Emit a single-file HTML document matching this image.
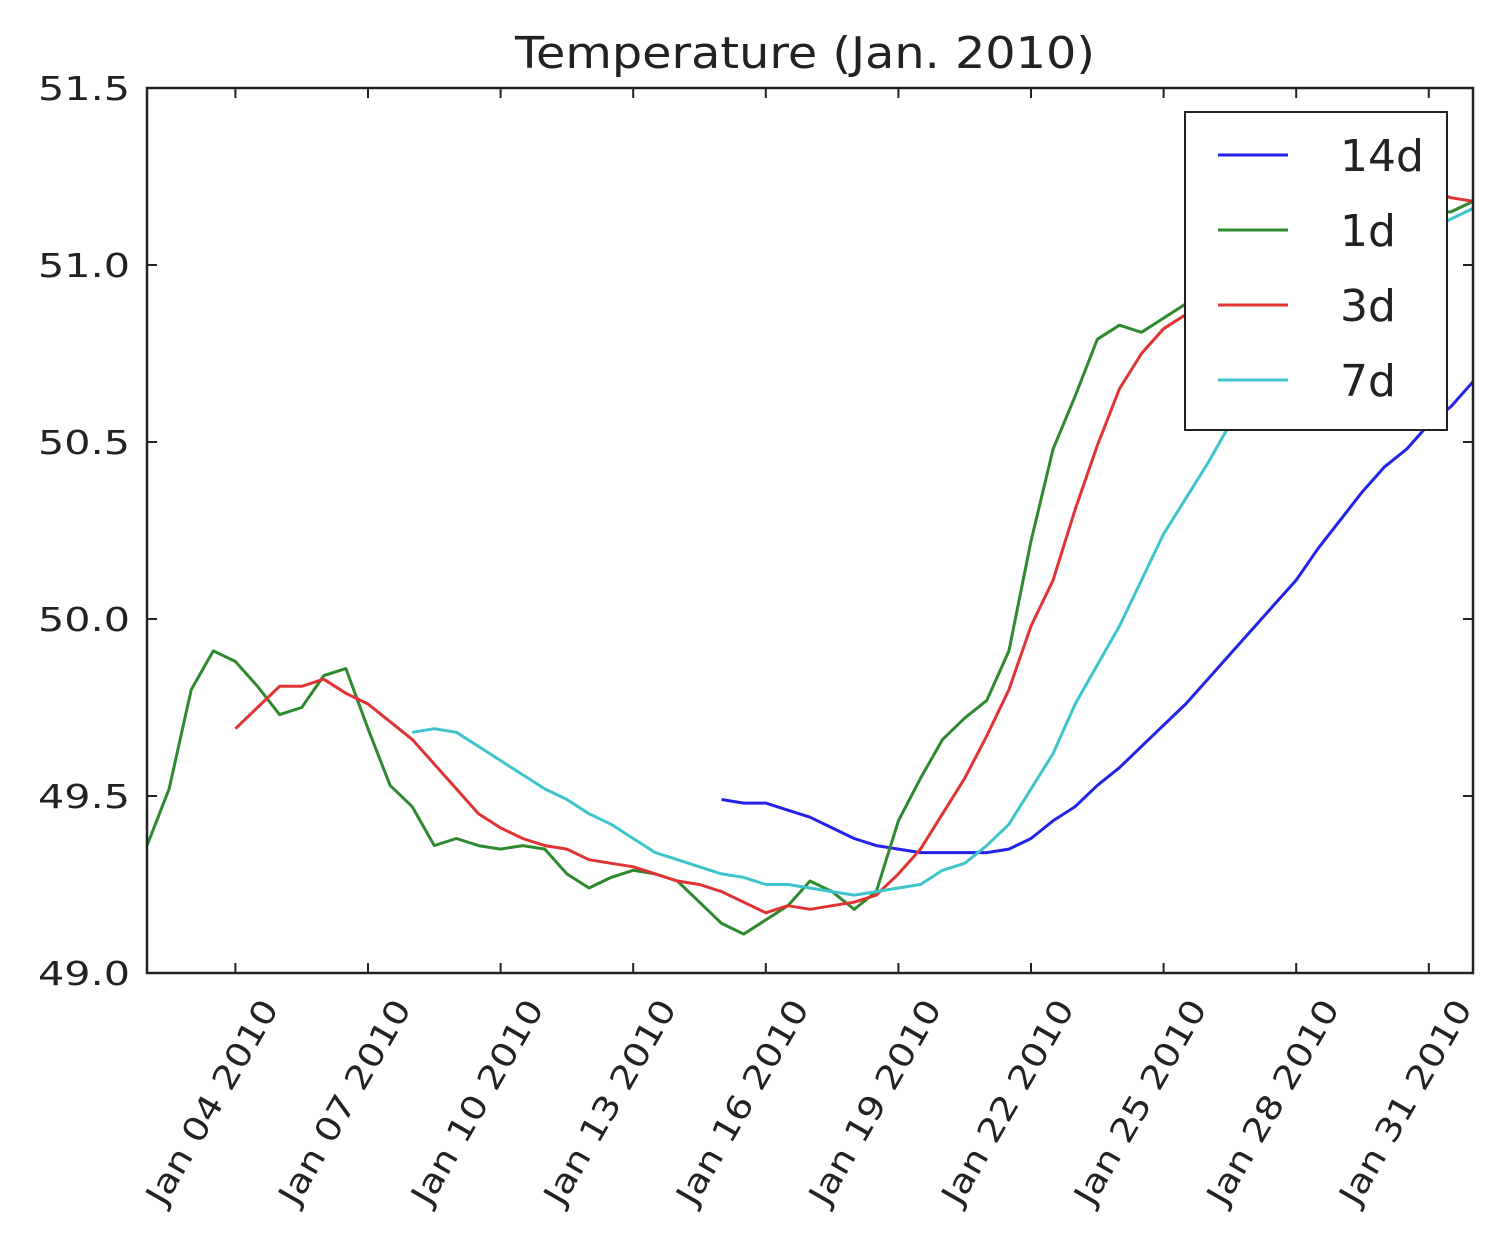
<!DOCTYPE html>
<html>
<head>
<meta charset="utf-8">
<style>
  html, body { margin: 0; padding: 0; background: #fff; }
  svg { display: block; font-family: "DejaVu Sans", "Liberation Sans", sans-serif; }
</style>
</head>
<body>
<svg id="chart" width="1510" height="1238" viewBox="0 0 1510 1238" xmlns="http://www.w3.org/2000/svg">
  <rect x="0" y="0" width="1510" height="1238" fill="#ffffff"/>
  <text x="805" y="68" text-anchor="middle" font-size="44" textLength="580" lengthAdjust="spacingAndGlyphs" fill="#222">Temperature (Jan. 2010)</text>
  <g id="plot"></g>
</svg>
<script>
// ---- data ----
const yTicks = [49.0, 49.5, 50.0, 50.5, 51.0, 51.5];
const yTickLabels = ["49.0", "49.5", "50.0", "50.5", "51.0", "51.5"];
const xTickDays = [4, 7, 10, 13, 16, 19, 22, 25, 28, 31];
const xTickLabels = ["Jan 04 2010", "Jan 07 2010", "Jan 10 2010", "Jan 13 2010", "Jan 16 2010", "Jan 19 2010", "Jan 22 2010", "Jan 25 2010", "Jan 28 2010", "Jan 31 2010"];
const seriesNames = ["14d", "1d", "3d", "7d"];
const stepDays = 0.5;
const start14d = 15;
const values14d = [49.49,49.48,49.48,49.46,49.44,49.41,49.38,49.36,49.35,49.34,49.34,49.34,49.34,49.35,49.38,49.43,49.47,49.53,49.58,49.64,49.70,49.76,49.83,49.90,49.97,50.04,50.11,50.20,50.28,50.36,50.43,50.48,50.55,50.60,50.67];
const start1d = 2;
const values1d = [49.36,49.52,49.80,49.91,49.88,49.81,49.73,49.75,49.84,49.86,49.69,49.53,49.47,49.36,49.38,49.36,49.35,49.36,49.35,49.28,49.24,49.27,49.29,49.28,49.26,49.20,49.14,49.11,49.15,49.19,49.26,49.23,49.18,49.23,49.43,49.55,49.66,49.72,49.77,49.91,50.22,50.48,50.63,50.79,50.83,50.81,50.85,50.89,50.92,50.97,51.02,51.06,51.08,51.10,51.13,51.14,51.16,51.17,51.15,51.15,51.18];
const start3d = 4;
const values3d = [49.69,49.75,49.81,49.81,49.83,49.79,49.76,49.71,49.66,49.59,49.52,49.45,49.41,49.38,49.36,49.35,49.32,49.31,49.30,49.28,49.26,49.25,49.23,49.20,49.17,49.19,49.18,49.19,49.20,49.22,49.28,49.35,49.45,49.55,49.67,49.80,49.98,50.11,50.31,50.49,50.65,50.75,50.82,50.86,50.93,51.00,51.06,51.10,51.14,51.17,51.18,51.20,51.20,51.21,51.21,51.19,51.18];
const start7d = 8;
const values7d = [49.68,49.69,49.68,49.64,49.60,49.56,49.52,49.49,49.45,49.42,49.38,49.34,49.32,49.30,49.28,49.27,49.25,49.25,49.24,49.23,49.22,49.23,49.24,49.25,49.29,49.31,49.36,49.42,49.52,49.62,49.76,49.87,49.98,50.11,50.24,50.34,50.44,50.55,50.65,50.73,50.80,50.87,50.93,50.99,51.03,51.07,51.10,51.13,51.16];

// ---- axes ----
const X0 = 147, X1 = 1473, Y0 = 973, Y1 = 88;
const dayMin = 2, dayMax = 32, vMin = 49.0, vMax = 51.5;
function xScale(d) { return X0 + (d - dayMin) / (dayMax - dayMin) * (X1 - X0); }
function yScale(v) { return Y0 - (v - vMin) / (vMax - vMin) * (Y0 - Y1); }

const NS = "http://www.w3.org/2000/svg";
const plot = document.getElementById("plot");
function mk(tag, attrs, parent) {
  const e = document.createElementNS(NS, tag);
  for (const k in attrs) e.setAttribute(k, attrs[k]);
  (parent || plot).appendChild(e);
  return e;
}

// series
const colors = { "14d": "#2323e8", "1d": "#2f8a2f", "3d": "#e03434", "7d": "#3ec4cc" };
const seriesData = [
  ["14d", start14d, values14d],
  ["1d", start1d, values1d],
  ["3d", start3d, values3d],
  ["7d", start7d, values7d]
];
const clipDefs = mk("defs", {});
const cp = mk("clipPath", { id: "clip" }, clipDefs);
mk("rect", { x: X0, y: Y1, width: X1 - X0, height: Y0 - Y1 }, cp);
const lineGroup = mk("g", { "clip-path": "url(#clip)" });


for (const [name, start, vals] of seriesData) {
  const pts = vals.map((v, i) => xScale(start + i * stepDays).toFixed(1) + "," + yScale(v).toFixed(1)).join(" ");
  const pl = mk("polyline", { points: pts, fill: "none", stroke: colors[name], "stroke-width": 3, "stroke-linejoin": "round" }, lineGroup);
  
  
}

// frame
const frame = mk("rect", { x: X0, y: Y1, width: X1 - X0, height: Y0 - Y1, fill: "none", stroke: "#222", "stroke-width": 2.5 });



// y ticks
yTicks.forEach((v, i) => {
  const y = yScale(v);
  mk("line", { x1: X0, x2: X0 + 10, y1: y, y2: y, stroke: "#222", "stroke-width": 2 });
  mk("line", { x1: X1, x2: X1 - 10, y1: y, y2: y, stroke: "#222", "stroke-width": 2 });
  const t = mk("text", { x: 38, y: y + 12, "font-size": 33, textLength: 92, lengthAdjust: "spacingAndGlyphs", fill: "#222" });
  t.textContent = yTickLabels[i];
  
  
});

// x ticks
xTickDays.forEach((d, i) => {
  const x = xScale(d);
  mk("line", { x1: x, x2: x, y1: Y0, y2: Y0 - 10, stroke: "#222", "stroke-width": 2 });
  mk("line", { x1: x, x2: x, y1: Y1, y2: Y1 + 10, stroke: "#222", "stroke-width": 2 });
  const ax = x + 44, ay = 1008;
  const t = mk("text", { x: ax, y: ay, "text-anchor": "end", "font-size": 33, textLength: 230, lengthAdjust: "spacingAndGlyphs", fill: "#222", transform: "rotate(-60 " + ax + " " + ay + ")" });
  t.textContent = xTickLabels[i];
  
  
});

// legend
const lg = mk("g", {});


mk("rect", { x: 1185, y: 112, width: 262, height: 318, fill: "#fff", stroke: "#222", "stroke-width": 2 }, lg);
seriesNames.forEach((name, i) => {
  const y = 155 + i * 75;
  const l = mk("line", { x1: 1218, x2: 1288, y1: y, y2: y, stroke: colors[name], "stroke-width": 3 }, lg);
  
  
  const t = mk("text", { x: 1340, y: y + 16, "font-size": 44, fill: "#222" }, lg);
  t.textContent = name;
  
  
});
</script>
</body>
</html>
